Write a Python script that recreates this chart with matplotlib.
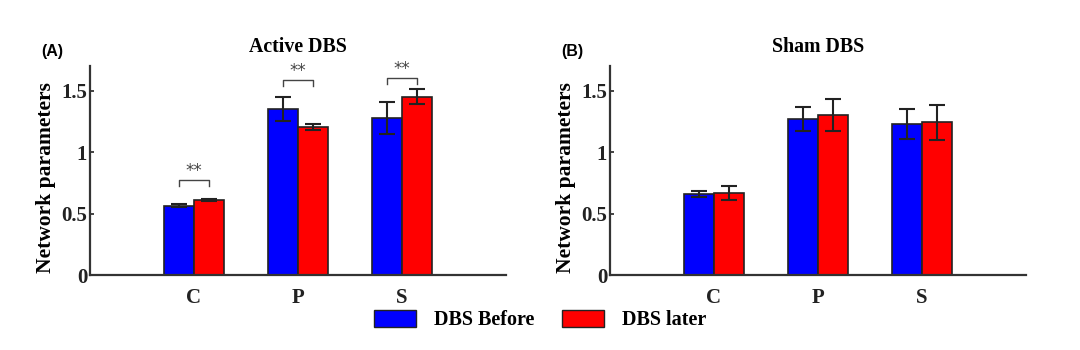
import matplotlib.pyplot as plt
import numpy as np
from matplotlib.patches import Patch

groups = ['C', 'P', 'S']
active_before = [0.566, 1.352, 1.281]
active_before_err = [0.010, 0.100, 0.130]
active_later = [0.612, 1.205, 1.453]
active_later_err = [0.010, 0.025, 0.065]
sham_before = [0.658, 1.27, 1.23]
sham_before_err = [0.025, 0.10, 0.125]
sham_later = [0.667, 1.30, 1.243]
sham_later_err = [0.055, 0.13, 0.14]
sig_heights = [0.77, 1.585, 1.60]

serif = ['Liberation Serif', 'DejaVu Serif']
sans = ['Liberation Sans', 'DejaVu Sans']
blue, red = '#0000ff', '#ff0000'
edge = '#222222'

fig = plt.figure(figsize=(10.8, 3.5), dpi=100)
ax_a = fig.add_axes([0.0833, 0.214, 0.385, 0.597])
ax_b = fig.add_axes([0.5648, 0.214, 0.385, 0.597])

x = np.arange(1, len(groups) + 1)
w = 0.29


def draw_panel(ax, before, before_err, later, later_err, title, letter):
    ekw = dict(ecolor=edge, elinewidth=1.5, capsize=6, capthick=1.5)
    ax.bar(x - w / 2, before, w, color=blue, edgecolor=edge, linewidth=1.2,
           yerr=before_err, error_kw=ekw, zorder=2)
    ax.bar(x + w / 2, later, w, color=red, edgecolor=edge, linewidth=1.2,
           yerr=later_err, error_kw=ekw, zorder=2)
    ax.set_xlim(0, 4)
    ax.set_ylim(0, 1.7)
    ax.set_xticks(x)
    ax.set_xticklabels(groups, family=serif, fontweight='bold', fontsize=15)
    ax.set_yticks([0, 0.5, 1, 1.5])
    ax.set_yticklabels(['0', '0.5', '1', '1.5'], family=serif,
                       fontweight='bold', fontsize=15)
    ax.tick_params(axis='y', direction='in', length=3, width=1.2, pad=2,
                   colors='#222222')
    ax.tick_params(axis='x', length=0, pad=9, colors='#222222')
    for s in ['top', 'right']:
        ax.spines[s].set_visible(False)
    for s in ['left', 'bottom']:
        ax.spines[s].set_linewidth(1.6)
        ax.spines[s].set_color('#333333')
    ax.set_ylabel('Network parameters', family=serif, fontweight='bold',
                  fontsize=15.5)
    ax.yaxis.set_label_coords(-0.081, 0.465)
    ax.set_title(title, family=serif, fontweight='bold', fontsize=14.3, pad=10)
    ax.text(-0.09, 1.07, letter, transform=ax.transAxes, family=sans,
            fontweight='bold', fontsize=11.5, ha='center', va='center')


draw_panel(ax_a, active_before, active_before_err, active_later,
           active_later_err, 'Active DBS', '(A)')
draw_panel(ax_b, sham_before, sham_before_err, sham_later,
           sham_later_err, 'Sham DBS', '(B)')

for xi, h in zip(x, sig_heights):
    ax_a.plot([xi - w / 2, xi - w / 2, xi + w / 2, xi + w / 2],
              [h - 0.045, h, h, h - 0.045], color='#444444', lw=1)
    ax_a.text(xi, h + 0.005, '**', ha='center', va='bottom', fontsize=12,
              color='#444444')

handles = [Patch(facecolor=blue, edgecolor=edge, label='DBS Before'),
           Patch(facecolor=red, edgecolor=edge, label='DBS later')]
fig.legend(handles=handles, loc='center', bbox_to_anchor=(0.5, 0.085),
           ncol=2, frameon=False, handlelength=2.1, handleheight=0.9,
           handletextpad=0.85, columnspacing=1.4,
           prop=dict(family=serif, weight='bold', size=14.5))

fig.savefig('out.png', dpi=100)
